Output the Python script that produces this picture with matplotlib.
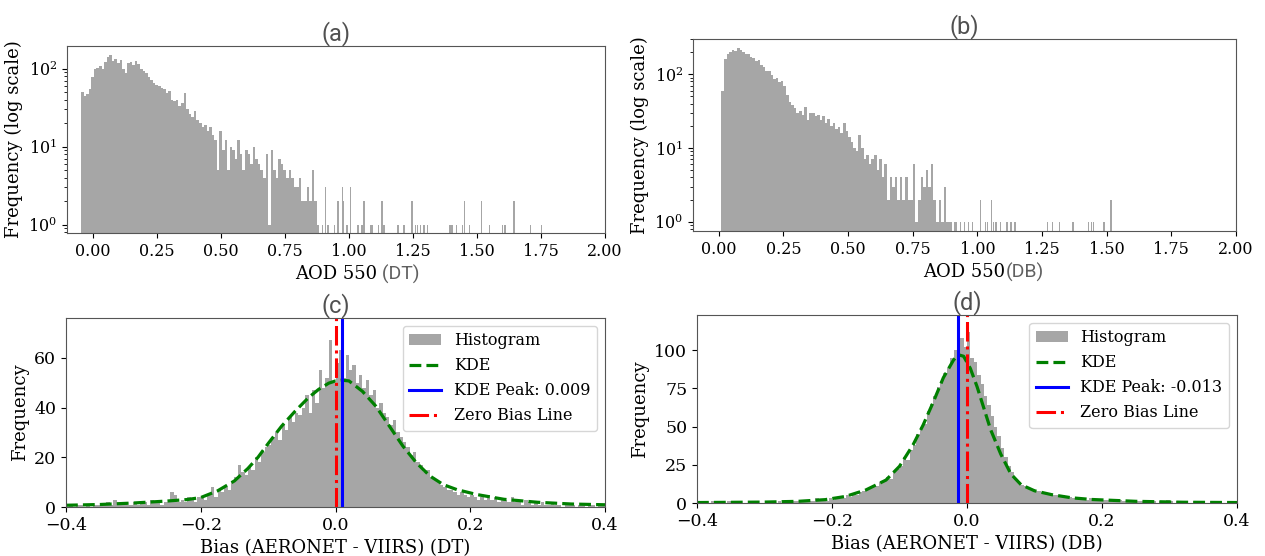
import numpy as np
import matplotlib
matplotlib.use('Agg')
import matplotlib.pyplot as plt

plt.rcParams['font.family'] = 'DejaVu Serif'
plt.rcParams['mathtext.fontset'] = 'dejavuserif'

# (a) AOD 550 DT: dense bins of 0.01 starting at -0.045, then isolated tail bars
a_start = -0.045
a_counts = [50, 45, 47, 55, 78, 98, 102, 108, 100, 120,
            140, 148, 125, 132, 118, 128, 100, 88, 118, 122,
            110, 125, 115, 100, 92, 88, 78, 72, 66, 62,
            60, 56, 54, 48, 52, 40, 38, 40, 33, 36,
            48, 30, 26, 24, 29, 22, 20, 18, 19, 16,
            18, 14, 12, 5, 16, 9, 12, 5, 10, 9,
            7, 12, 8, 5, 9, 8, 6, 10, 7, 6,
            5, 4, 8, 1, 9, 5, 4, 7, 6, 5,
            4, 5, 4, 3, 3, 4, 2, 2, 3, 2,
            5, 2, 1]
a_tail_x = [0.896, 0.909, 0.919, 0.945, 0.958, 0.974, 0.980, 0.993, 1.006, 1.033,
            1.039, 1.052, 1.059, 1.085, 1.091, 1.117, 1.130, 1.137, 1.189, 1.195,
            1.215, 1.247, 1.260, 1.267, 1.280, 1.293, 1.306, 1.395, 1.400, 1.405,
            1.420, 1.445, 1.452, 1.470, 1.518, 1.550, 1.600, 1.607, 1.612, 1.645,
            1.710, 1.752]
a_tail_n = [1, 3, 1, 1, 2, 3, 2, 1, 3, 1,
            1, 1, 2, 1, 1, 1, 2, 1, 1, 1,
            1, 2, 1, 1, 1, 1, 1, 1, 1, 1,
            1, 1, 2, 1, 2, 1, 1, 1, 1, 2,
            1, 1]

# (b) AOD 550 DB
b_start = 0.01
b_counts = [60, 160, 185, 200, 210, 205, 228, 210, 200, 185,
            190, 170, 165, 150, 155, 135, 125, 110, 112, 98,
            85, 90, 78, 82, 70, 52, 42, 38, 35, 30,
            32, 28, 36, 24, 30, 30, 27, 28, 24, 27,
            22, 25, 20, 22, 18, 19, 16, 22, 17, 14,
            12, 10, 9, 15, 10, 7, 8, 6, 7, 8,
            5, 7, 4, 6, 2, 4, 3, 4, 2, 4,
            2, 4, 2, 2, 6, 1, 2, 4, 3, 5,
            3, 6, 2, 1, 2, 1, 3, 1, 1, 0,
            1]
b_tail_x = [0.934, 0.950, 0.965, 0.980, 1.012, 1.030, 1.040, 1.054, 1.062, 1.072,
            1.090, 1.114, 1.130, 1.145, 1.272, 1.290, 1.318, 1.370, 1.430, 1.440,
            1.450, 1.490, 1.517]
b_tail_n = [1, 1, 1, 1, 2, 1, 1, 2, 1, 1,
            1, 1, 1, 1, 1, 1, 1, 1, 1, 1,
            1, 1, 2]

# (c) bias DT: bins of 0.005 from -0.4 to 0.4
c_counts = [0, 1, 0, 1, 1, 0, 1, 0, 1, 1,
            1, 1, 2, 1, 3, 1, 1, 2, 1, 1,
            2, 1, 2, 2, 1, 3, 2, 2, 1, 2,
            2, 6, 5, 2, 3, 2, 4, 3, 2, 4,
            4, 3, 5, 8, 4, 7, 6, 8, 7, 10,
            12, 17, 14, 13, 16, 15, 20, 18, 22, 24,
            25, 28, 30, 27, 33, 31, 36, 34, 38, 37,
            40, 45, 38, 47, 42, 55, 48, 52, 67, 50,
            58, 63, 52, 61, 55, 57, 50, 53, 48, 51,
            45, 47, 40, 42, 38, 36, 33, 35, 30, 28,
            26, 24, 21, 22, 18, 17, 14, 15, 12, 11,
            10, 9, 8, 7, 7, 6, 5, 6, 5, 4,
            5, 4, 3, 4, 3, 5, 3, 4, 2, 3,
            3, 2, 4, 2, 2, 1, 3, 2, 1, 2,
            1, 2, 1, 1, 2, 1, 1, 0, 1, 1,
            1, 0, 1, 1, 0, 1, 1, 0, 1, 1]
c_kde_x = [-0.40, -0.35, -0.30, -0.25, -0.22, -0.20, -0.175, -0.15, -0.13, -0.115,
           -0.10, -0.08, -0.06, -0.04, -0.025, -0.01, 0.0, 0.009, 0.02, 0.04,
           0.06, 0.08, 0.10, 0.12, 0.14, 0.16, 0.18, 0.21, 0.25, 0.30,
           0.35, 0.40]
c_kde_y = [0.7, 1.0, 1.6, 2.4, 3.0, 3.8, 6.5, 10.5, 15.5, 20,
           25.5, 32.5, 38.5, 44, 47.3, 49.8, 50.7, 51, 50.7, 46.5,
           40.5, 32.5, 24.5, 17.8, 12.5, 9, 7, 5, 3.1, 1.9,
           1.2, 0.9]
c_peak = 0.009

# (d) bias DB
d_counts = [0, 0, 0, 0, 1, 0, 0, 0, 0, 1,
            0, 0, 1, 0, 0, 0, 1, 0, 0, 0,
            0, 1, 0, 0, 1, 0, 1, 0, 1, 1,
            1, 1, 2, 1, 1, 3, 2, 2, 1, 3,
            2, 3, 4, 3, 5, 4, 6, 5, 7, 8,
            9, 10, 12, 11, 14, 15, 17, 16, 20, 22,
            24, 30, 28, 35, 38, 45, 50, 52, 60, 65,
            70, 76, 80, 85, 88, 95, 100, 92, 108, 102,
            112, 95, 92, 84, 78, 70, 64, 57, 50, 44,
            36, 30, 24, 20, 16, 14, 12, 11, 10, 9,
            8, 8, 7, 6, 6, 5, 5, 4, 5, 4,
            4, 3, 4, 3, 3, 2, 3, 2, 2, 2,
            2, 2, 1, 2, 1, 2, 1, 1, 2, 1,
            1, 1, 2, 1, 1, 1, 0, 1, 1, 2,
            1, 0, 1, 0, 1, 0, 0, 1, 0, 0,
            0, 0, 1, 0, 0, 0, 0, 1, 0, 0]
d_kde_x = [-0.40, -0.30, -0.25, -0.21, -0.18, -0.15, -0.12, -0.10, -0.08, -0.065,
           -0.05, -0.035, -0.02, -0.013, -0.005, 0.005, 0.015, 0.025, 0.035, 0.05,
           0.065, 0.08, 0.10, 0.125, 0.155, 0.185, 0.25, 0.32, 0.40]
d_kde_y = [0.3, 0.6, 1.1, 2.2, 4.3, 8.5, 15, 24, 38, 51,
           66, 82, 93.5, 97, 96, 88, 76, 62, 48, 32,
           19, 12, 8, 5.5, 3.4, 2.3, 1.1, 0.5, 0.3]
d_peak = -0.013

HIST = '#a6a6a6'
W, H = 1265, 556

fig = plt.figure(figsize=(W / 100, H / 100), dpi=100)


def px_axes(left, top, right, bottom):
    ax = fig.add_axes([left / W, 1 - bottom / H, (right - left) / W, (bottom - top) / H])
    for s in ax.spines.values():
        s.set_edgecolor('#555555')
    return ax


def panel_title(ax, s):
    ax.set_title(s, fontsize=17, family='Roboto', color='#505050', pad=4)


def top_panel(ax, start, counts, tail_x, tail_n, ylim, tag, title):
    edges = start + 0.01 * np.arange(len(counts) + 1)
    ax.hist(edges[:-1], bins=edges, weights=counts, color=HIST, log=True)
    ax.bar(tail_x, tail_n, width=0.005, color=HIST, linewidth=0)
    ax.set_xlim(-0.1, 2.0)
    ax.set_ylim(*ylim)
    ax.set_xticks(np.arange(0, 2.01, 0.25))
    ax.tick_params(labelsize=11.5)
    ax.set_ylabel('Frequency (log scale)', fontsize=13)
    ax.set_xlabel('AOD 550', fontsize=13)
    ax.annotate(tag, xy=(1, 0.5), xycoords=ax.xaxis.label, va='center', ha='left',
                fontsize=14, family='Roboto', color='#606060')
    panel_title(ax, title)


def bottom_panel(ax, counts, kde_x, kde_y, peak, ylim, yticks, xlabel, title):
    edges = -0.4 + 0.005 * np.arange(len(counts) + 1)
    ax.hist(edges[:-1], bins=edges, weights=counts, color=HIST, label='Histogram')
    ax.plot(kde_x, kde_y, color='green', ls='--', lw=2.3, label='KDE')
    ax.axvline(peak, color='blue', lw=2.2, label=f'KDE Peak: {peak:.3f}')
    ax.axvline(0, color='red', ls='-.', lw=2.2, label='Zero Bias Line')
    ax.set_xlim(-0.4, 0.4)
    ax.set_ylim(*ylim)
    ax.set_xticks([-0.4, -0.2, 0.0, 0.2, 0.4])
    ax.set_yticks(yticks)
    ax.tick_params(labelsize=12.5)
    ax.set_ylabel('Frequency', fontsize=13)
    ax.set_xlabel(xlabel, fontsize=13)
    ax.legend(loc='upper right', fontsize=11.5)
    panel_title(ax, title)


ax_a = px_axes(67, 46, 605, 233)
top_panel(ax_a, a_start, a_counts, a_tail_x, a_tail_n, (0.78, 195), ' (DT)', '(a)')

ax_b = px_axes(693, 39, 1236, 231)
top_panel(ax_b, b_start, b_counts, b_tail_x, b_tail_n, (0.75, 300), '(DB)', '(b)')

ax_c = px_axes(66, 318, 605, 507)
bottom_panel(ax_c, c_counts, c_kde_x, c_kde_y, c_peak, (0, 76), [0, 20, 40, 60],
             'Bias (AERONET - VIIRS) (DT)', '(c)')

ax_d = px_axes(697, 315, 1237, 503)
bottom_panel(ax_d, d_counts, d_kde_x, d_kde_y, d_peak, (0, 123), [0, 25, 50, 75, 100],
             'Bias (AERONET - VIIRS) (DB)', '(d)')

fig.savefig('out.png', dpi=100)
